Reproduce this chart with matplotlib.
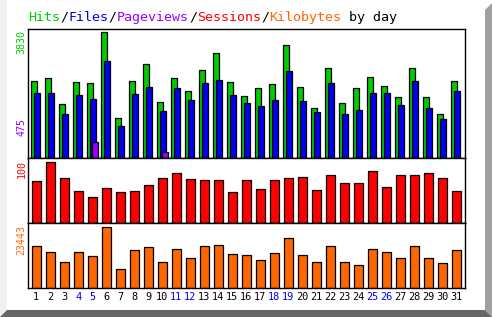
import matplotlib
matplotlib.use('Agg')
import matplotlib.pyplot as plt
from matplotlib.patches import Polygon
import numpy as np

W, H = 492, 317
days = np.arange(1, 32)
weekend = [4, 5, 11, 12, 18, 19, 25, 26]

hits = [2341, 2432, 1641, 2310, 2280, 3830, 1216, 2341, 2857, 1702,
        2432, 2037, 2675, 3192, 2310, 1885, 2128, 2249, 3435, 2158,
        1520, 2736, 1672, 2128, 2462, 2189, 1854, 2736, 1854, 1337, 2341]
files = [1976, 1976, 1337, 1915, 1793, 2948, 973, 1945, 2158, 1429,
         2128, 1763, 2280, 2371, 1915, 1672, 1581, 1763, 2645, 1733,
         1398, 2280, 1337, 1459, 1976, 1976, 1611, 2341, 1520, 1186, 2037]
pageviews = [0, 0, 0, 0, 475, 0, 0, 0, 0, 185,
             0, 0, 0, 0, 0, 0, 0, 0, 0, 0,
             0, 0, 0, 0, 0, 0, 0, 0, 0, 0, 0]
sessions = [69, 100, 74, 52, 43, 57, 51, 52, 63, 74,
            82, 72, 70, 70, 51, 70, 56, 70, 74, 75,
            54, 79, 66, 66, 85, 59, 79, 79, 82, 74, 52]
kilobytes = [16141, 13835, 9992, 13835, 12298, 23443, 7302, 14604, 15757, 9992,
             14988, 11529, 16141, 16525, 13066, 12682, 10761, 13451, 19216, 12682,
             9992, 16141, 9992, 8839, 14988, 13835, 11529, 16141, 11529, 9608, 14604]

c_hits = '#00cc00'
c_files = '#0000ee'
c_pages = '#9900ff'
c_sess = '#ff0000'
c_kb = '#ff6600'
c_wkend = '#0000ee'

mono = 'DejaVu Sans Mono'
lw = 0.9

fig = plt.figure(figsize=(W / 100, H / 100), dpi=100)
fig.patch.set_facecolor('white')


def fx(px):
    return px / W


def fy(py):
    return 1 - py / H


# frame shadows
def poly(pts, color):
    fig.patches.append(Polygon([(fx(x), fy(y)) for x, y in pts], closed=True,
                               transform=fig.transFigure, facecolor=color,
                               edgecolor='none', zorder=0))


poly([(0, 0), (7, 0), (7, 310), (0, 317)], '#f0f0f0')
poly([(485, 10), (492, 3), (492, 317), (485, 310)], '#a0a0a0')
poly([(0, 317), (7, 310), (485, 310), (492, 317)], '#666666')

left, right = 28.3, 465.5
xlim = (1 - (36.3 - left) / 14, 1 + (right - 36.3) / 14)


def make_ax(top, bottom):
    ax = fig.add_axes([fx(left), fy(bottom), fx(right - left), (bottom - top) / H])
    ax.set_xlim(*xlim)
    ax.set_xticks([])
    ax.set_yticks([])
    for s in ax.spines.values():
        s.set_linewidth(1.0)
        s.set_color('black')
    ax.set_facecolor('white')
    return ax


ax1 = make_ax(29, 158)
ax2 = make_ax(158, 223)
ax3 = make_ax(223, 288.3)

ax1.set_ylim(0, 3830 * 129 / 126)
ax2.set_ylim(0, 100 * 65 / 61)
ax3.set_ylim(0, 23443 * 65.3 / 61)

bw = 0.43
ax1.bar(days - 0.14, hits, width=bw, color=c_hits, edgecolor='black', linewidth=lw)
ax1.bar(days + 0.07, files, width=bw, color=c_files, edgecolor='black', linewidth=lw)
pv = np.array(pageviews)
m = pv > 0
ax1.bar(days[m] + 0.21, pv[m], width=bw, color=c_pages, edgecolor='black', linewidth=lw)

ax2.bar(days, sessions, width=0.63, color=c_sess, edgecolor='black', linewidth=lw)
ax3.bar(days, kilobytes, width=0.63, color=c_kb, edgecolor='black', linewidth=lw)

# day labels
for d in days:
    col = c_wkend if d in weekend else 'black'
    x = ax3.transData.transform((d, 0))[0]
    fig.text(x / W, fy(297), str(d), ha='center', va='center',
             fontsize=7.4, family=mono, color=col)

# max value labels
for txt, top, col in [('3830', 30, c_hits), ('475', 118, c_pages),
                      ('100', 160, c_sess), ('23443', 225, c_kb)]:
    fig.text(fx(21.7), fy(top), txt, rotation=90, ha='center', va='top',
             fontsize=7.2, family=mono, color=col)

# title in coloured pieces
pieces = [('Hits', c_hits), ('/', 'black'), ('Files', c_files), ('/', 'black'),
          ('Pageviews', c_pages), ('/', 'black'), ('Sessions', c_sess),
          ('/', 'black'), ('Kilobytes', c_kb), (' by day', 'black')]
fs = 9.6
cw = 0.602 * fs * 100 / 72
x0 = 28.3
for txt, col in pieces:
    fig.text(fx(x0), fy(17.5), txt, ha='left', va='center', fontsize=fs,
             family=mono, color=col)
    x0 += cw * len(txt)

fig.savefig('out.png', dpi=100)
